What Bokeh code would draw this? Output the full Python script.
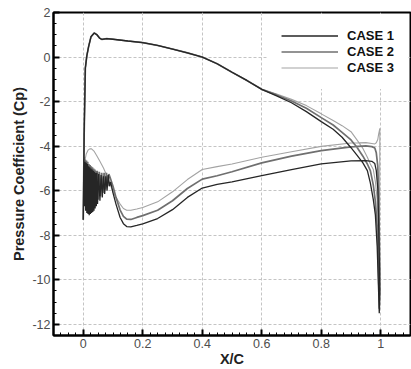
import numpy as np
from bokeh.plotting import figure
from bokeh.models import FixedTicker, Legend, LegendItem, Range1d
from bokeh.embed import file_html
from bokeh.resources import INLINE

# ---------------- data ----------------
case_labels = ["CASE 1", "CASE 2", "CASE 3"]

# upper surface, shared part (leading edge -> x/c = 0.6)
x_up = [0.0, 0.003, 0.007, 0.012, 0.018, 0.026, 0.037, 0.046, 0.055, 0.063, 0.079,
        0.1, 0.15, 0.2, 0.25, 0.3, 0.35, 0.4, 0.45, 0.5, 0.55, 0.6]
cp_up = [-7.3, -3.5, -0.5, 0.05, 0.47, 0.91, 1.08, 1.0, 0.85, 0.79, 0.83,
         0.8, 0.72, 0.65, 0.52, 0.36, 0.19, 0.0, -0.3, -0.68, -1.05, -1.45]

# upper surface, aft part (cases diverge)
x_up_te = [0.65, 0.7, 0.75, 0.8, 0.84, 0.87, 0.9, 0.92, 0.94, 0.955, 0.965, 0.975,
           0.982, 0.988, 0.992, 0.995]
cp_up_te_1 = [-1.74, -2.05, -2.45, -2.9, -3.24, -3.6, -4.07, -4.4, -4.75, -5.1, -5.65, -6.4,
              -7.1, -8.5, -10.2, -11.5]
cp_up_te_2 = [-1.7, -1.97, -2.3, -2.72, -3.05, -3.38, -3.72, -4.05, -4.45, -4.8, -5.1, -5.75,
              -6.5, -7.6, -9.2, -11.3]
cp_up_te_3 = [-1.66, -1.9, -2.18, -2.55, -2.85, -3.08, -3.35, -3.72, -4.1, -4.5, -4.8, -5.05,
              -5.6, -6.4, -7.8, -11.0]

# lower surface near the leading edge (oscillating region)
x_le_1 = [0.0, 0.002, 0.004, 0.006, 0.008, 0.010, 0.012, 0.014, 0.016, 0.018, 0.020, 0.022,
          0.024, 0.026, 0.028, 0.030, 0.032, 0.034, 0.036, 0.038, 0.040, 0.042, 0.044, 0.046,
          0.048, 0.052, 0.056, 0.060, 0.064, 0.068, 0.072, 0.076, 0.080, 0.084, 0.088, 0.092]
cp_le_1 = [-7.3, -4.6, -6.7, -4.7, -6.9, -4.75, -7.0, -4.8, -7.05, -4.9, -7.1, -4.95,
           -7.05, -5.0, -7.0, -5.05, -6.95, -5.1, -6.9, -5.15, -6.8, -5.2, -6.7, -5.2,
           -6.6, -5.25, -6.45, -5.3, -6.3, -5.35, -6.15, -5.35, -6.0, -5.3, -5.8, -5.6]
x_le_2 = [0.0, 0.003, 0.005, 0.007, 0.009, 0.011, 0.013, 0.015, 0.017, 0.019, 0.021, 0.023,
          0.025, 0.027, 0.029, 0.031, 0.033, 0.035, 0.037, 0.039, 0.041, 0.043, 0.045, 0.047,
          0.050, 0.054, 0.058, 0.062, 0.066, 0.070, 0.074, 0.078, 0.082, 0.086, 0.090]
cp_le_2 = [-7.3, -4.5, -6.5, -4.6, -6.7, -4.65, -6.8, -4.7, -6.85, -4.8, -6.9, -4.85,
           -6.85, -4.9, -6.8, -4.95, -6.75, -5.0, -6.7, -5.05, -6.6, -5.1, -6.5, -5.1,
           -6.4, -5.15, -6.25, -5.2, -6.1, -5.2, -5.95, -5.2, -5.8, -5.25, -5.4]
x_le_3 = [0.0, 0.002, 0.005, 0.01, 0.016, 0.022, 0.028, 0.036, 0.045, 0.055, 0.068, 0.08, 0.09]
cp_le_3 = [-7.3, -5.6, -4.7, -4.35, -4.18, -4.12, -4.12, -4.22, -4.42, -4.66, -4.98, -5.35, -5.7]

# lower surface, main part
x_low = [0.1, 0.11, 0.124, 0.135, 0.146, 0.16, 0.18, 0.2, 0.25, 0.3, 0.35, 0.4, 0.45, 0.5,
         0.6, 0.7, 0.8, 0.9, 0.95, 0.97]
cp_low_1 = [-6.1, -6.6, -7.2, -7.48, -7.61, -7.62, -7.56, -7.49, -7.25, -6.85, -6.3, -5.88,
            -5.72, -5.6, -5.32, -5.05, -4.8, -4.66, -4.65, -4.68]
cp_low_2 = [-5.8, -6.3, -6.87, -7.15, -7.28, -7.29, -7.2, -7.12, -6.88, -6.45, -5.9, -5.48,
            -5.33, -5.15, -4.75, -4.45, -4.2, -4.03, -3.99, -4.02]
cp_low_3 = [-6.05, -6.3, -6.6, -6.8, -6.88, -6.88, -6.82, -6.75, -6.5, -6.05, -5.5, -5.05,
            -4.92, -4.8, -4.5, -4.25, -4.01, -3.86, -3.84, -3.88]

# lower surface at the trailing edge
x_tail = [0.98, 0.985, 0.99, 0.993, 0.997]
cp_tail_1 = [-4.78, -5.1, -5.9, -7.5, -10.5]
cp_tail_2 = [-4.08, -4.3, -4.9, -6.2, -9.5]
cp_tail_3 = [-3.9, -3.85, -3.7, -3.45, -3.2]

x_ticks = [0, 0.2, 0.4, 0.6, 0.8, 1]
x_tick_labels = ["0", "0.2", "0.4", "0.6", "0.8", "1"]
y_ticks = [-12, -10, -8, -6, -4, -2, 0, 2]
y_tick_labels = ["-12", "-10", "-8", "-6", "-4", "-2", "0", "2"]

# ---------------- build closed loops (TE upper -> LE -> TE lower) ----------------
def loop(cp_te, x_le, cp_le, cp_low, cp_tail):
    xu = x_up + x_up_te
    cu = cp_up + cp_te
    xs = xu[::-1] + x_le + x_low + x_tail
    ys = cu[::-1] + cp_le + cp_low + cp_tail
    xs.append(xs[0])
    ys.append(ys[0])
    return xs, ys

x1, y1 = loop(cp_up_te_1, x_le_1, cp_le_1, cp_low_1, cp_tail_1)
x2, y2 = loop(cp_up_te_2, x_le_2, cp_le_2, cp_low_2, cp_tail_2)
x3, y3 = loop(cp_up_te_3, x_le_3, cp_le_3, cp_low_3, cp_tail_3)

FONT = "Liberation Sans"

p = figure(width=411, height=369, x_range=Range1d(-0.1, 1.1), y_range=Range1d(-12.5, 2),
           output_backend="svg", toolbar_location=None,
           min_border_left=53, min_border_right=1, min_border_top=12, min_border_bottom=31)
p.background_fill_color = "white"
p.border_fill_color = "white"
p.outline_line_color = "black"
p.outline_line_width = 2
p.outline_line_alpha = 1

r3 = p.line(x3, y3, line_color="#a3a3a3", line_width=1.1)
r2 = p.line(x2, y2, line_color="#6f6f6f", line_width=1.7)
r1 = p.line(x1, y1, line_color="#262626", line_width=1.3)

p.xaxis.ticker = FixedTicker(ticks=x_ticks, minor_ticks=list(np.arange(-0.1, 1.1001, 0.025)))
p.yaxis.ticker = FixedTicker(ticks=y_ticks, minor_ticks=list(np.arange(-12.5, 2.001, 0.5)))
p.xaxis.major_label_overrides = {t: l for t, l in zip(x_ticks, x_tick_labels)}
p.yaxis.major_label_overrides = {t: l for t, l in zip(y_ticks, y_tick_labels)}

for ax in (p.xaxis, p.yaxis):
    ax.axis_line_width = 2
    ax.axis_line_color = "black"
    ax.major_tick_line_width = 2
    ax.major_tick_in = 6
    ax.major_tick_out = 0
    ax.minor_tick_in = 3
    ax.minor_tick_out = 0
    ax.minor_tick_line_width = 1
    ax.major_label_text_font = FONT
    ax.major_label_text_font_size = "12.5px"
    ax.major_label_text_color = "#4d4d4d"
    ax.major_label_standoff = 3
    ax.axis_label_text_font = FONT
    ax.axis_label_text_font_style = "bold"
    ax.axis_label_text_font_size = "14.5px"
    ax.axis_label_text_color = "#222222"

p.xaxis.axis_label = "X/C"
p.yaxis.axis_label = "Pressure Coefficient (Cp)"
p.xaxis.axis_label_standoff = 0
p.yaxis.axis_label_standoff = 2

for g in (p.xgrid, p.ygrid):
    g.grid_line_color = "#c4c4c4"
    g.grid_line_dash = "3 2"
    g.grid_line_width = 1

legend = Legend(items=[LegendItem(label=case_labels[0], renderers=[r1]),
                       LegendItem(label=case_labels[1], renderers=[r2]),
                       LegendItem(label=case_labels[2], renderers=[r3])],
                location="top_right")
legend.label_text_font = FONT
legend.label_text_font_style = "bold"
legend.label_text_font_size = "13px"
legend.label_text_color = "#111111"
legend.glyph_width = 57
legend.glyph_height = 15
legend.label_height = 15
legend.label_standoff = 9
legend.spacing = 1
legend.padding = 14
legend.margin = 2
legend.border_line_alpha = 0
legend.background_fill_color = "white"
legend.background_fill_alpha = 1
p.add_layout(legend)

open("out.html", "w").write(file_html(p, INLINE))
